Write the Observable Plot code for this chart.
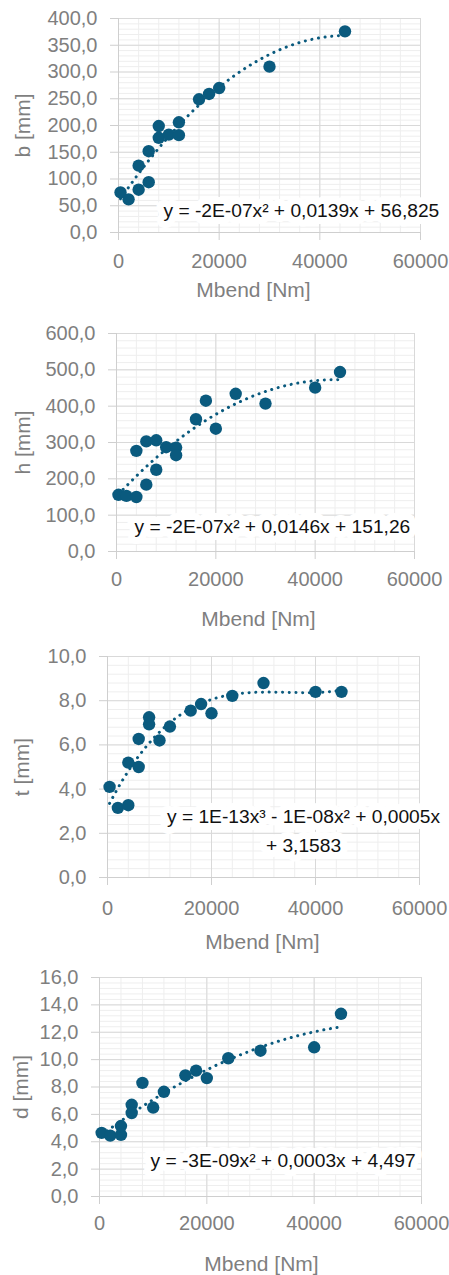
<!DOCTYPE html>
<html>
<head>
<meta charset="utf-8">
<script src="https://cdn.jsdelivr.net/npm/d3@7"></script>
<script src="https://cdn.jsdelivr.net/npm/@observablehq/plot@0.6"></script>
<style>
  html, body { margin: 0; padding: 0; background: #fff; }
  #wrap { position: relative; width: 449px; height: 1275px; overflow: hidden; }
  .panel { position: absolute; left: 0; }
</style>
</head>
<body>
<div id="wrap"></div>
<script>
// ---------- data ----------
const xTicks = [0, 20000, 40000, 60000];

const mbendB = [400, 2000, 4000, 4000, 6000, 6000, 8000, 8000, 10000, 12000, 12000, 16000, 18000, 20000, 30000, 45000];
const bValues = [75, 62, 125, 80, 152, 94, 199, 177, 183, 206, 182, 249, 259, 270, 310, 376];
const bTicks = [0, 50, 100, 150, 200, 250, 300, 350, 400];

const mbendH = [400, 2000, 4000, 4000, 6000, 6000, 8000, 8000, 10000, 12000, 12000, 16000, 18000, 20000, 24000, 30000, 40000, 45000];
const hValues = [156, 153, 150, 277, 184, 303, 306, 225, 287, 286, 265, 364, 415, 338, 434, 407, 451, 494];
const hTicks = [0, 100, 200, 300, 400, 500, 600];

const mbendT = [400, 2000, 4000, 4000, 6000, 6000, 8000, 8000, 10000, 12000, 16000, 18000, 20000, 24000, 30000, 40000, 45000];
const tValues = [4.1, 3.15, 3.27, 5.2, 5.0, 6.27, 7.25, 6.93, 6.2, 6.83, 7.55, 7.85, 7.43, 8.22, 8.8, 8.4, 8.4];
const tTicks = [0, 2, 4, 6, 8, 10];

const mbendD = [400, 2000, 4000, 4000, 6000, 6000, 8000, 10000, 12000, 16000, 18000, 20000, 24000, 30000, 40000, 45000];
const dValues = [4.65, 4.45, 4.5, 5.15, 6.7, 6.1, 8.3, 6.5, 7.65, 8.85, 9.2, 8.65, 10.1, 10.65, 10.9, 13.35];
const dTicks = [0, 2, 4, 6, 8, 10, 12, 14, 16];

const xTitle = "Mbend [Nm]";
const yTitles = ["b [mm]", "h [mm]", "t [mm]", "d [mm]"];
const equations = [
  "y = -2E-07x\u00B2 + 0,0139x + 56,825",
  "y = -2E-07x\u00B2 + 0,0146x + 151,26",
  "y = 1E-13x\u00B3 - 1E-08x\u00B2 + 0,0005x\n+ 3,1583",
  "y = -3E-09x\u00B2 + 0,0003x + 4,497"
];
const trendDegrees = [2, 2, 3, 2];

// ---------- styles ----------
const COLOR = "#0a5a7e";
const TEXT_GRAY = "#7f7f7f";
const MAJOR = "#d9d9d9";
const MINOR = "#eeeeee";
const AXIS = "#cfcfcf";
const FONT = "'Liberation Sans', Arial, sans-serif";

// least-squares polynomial fit (the trendline Excel draws)
function polyfit(xs, ys, deg) {
  const s = 1e-4, n = deg + 1;
  const A = Array.from({length: n}, () => new Array(n + 1).fill(0));
  xs.forEach((x0, k) => {
    const x = x0 * s;
    for (let i = 0; i < n; i++) {
      for (let j = 0; j < n; j++) A[i][j] += x ** (i + j);
      A[i][n] += ys[k] * x ** i;
    }
  });
  for (let i = 0; i < n; i++) {
    let p = i;
    for (let r = i + 1; r < n; r++) if (Math.abs(A[r][i]) > Math.abs(A[p][i])) p = r;
    [A[i], A[p]] = [A[p], A[i]];
    for (let r = 0; r < n; r++) if (r !== i) {
      const f = A[r][i] / A[i][i];
      for (let c = i; c <= n; c++) A[r][c] -= f * A[i][c];
    }
  }
  const coef = A.map((row, i) => row[n] / row[i]);
  return x => coef.reduce((acc, c, i) => acc + c * (x * s) ** i, 0);
}

const fmtY = d => d.toFixed(1).replace(".", ",");

const panels = [
  {top: 0, height: 320, xs: mbendB, ys: bValues, yTicks: bTicks, minorStep: 10,
   m: {top: 18, right: 29, bottom: 88, left: 118}, xPad: 13,
   xTitle: {dx: -16, dy: 58}, yTitleDx: -95,
   eq: {frameAnchor: "bottom-left", textAnchor: "start", dx: 45, dy: -25}},
  {top: 320, height: 320, xs: mbendH, ys: hValues, yTicks: hTicks, minorStep: 20,
   m: {top: 13, right: 35, bottom: 89, left: 116}, xPad: 12,
   xTitle: {dx: -7, dy: 68}, yTitleDx: -93.5,
   eq: {frameAnchor: "bottom-left", textAnchor: "start", dx: 18, dy: -28}},
  {top: 640, height: 320, xs: mbendT, ys: tValues, yTicks: tTicks, minorStep: 0.4,
   m: {top: 16, right: 30, bottom: 83, left: 107}, xPad: 15,
   xTitle: {dx: -1, dy: 64.5}, yTitleDx: -85,
   eq: {frameAnchor: "bottom-left", textAnchor: "middle", dx: 196, dy: -49.5}},
  {top: 960, height: 315, xs: mbendD, ys: dValues, yTicks: dTicks, minorStep: 0.4,
   m: {top: 17, right: 28, bottom: 79, left: 99}, xPad: 11,
   xTitle: {dx: 1, dy: 68}, yTitleDx: -78,
   eq: {frameAnchor: "bottom-left", textAnchor: "start", dx: 51, dy: -39}}
];

const wrap = document.getElementById("wrap");

panels.forEach((p, k) => {
  const data = p.xs.map((x, i) => ({x, y: p.ys[i]}));
  const ymax = p.yTicks[p.yTicks.length - 1];
  const xMinor = d3.range(0, 60001, 4000);
  const yMinor = d3.range(0, Math.round(ymax / p.minorStep) + 1).map(i => +(i * p.minorStep).toFixed(4));
  const fit = polyfit(p.xs, p.ys, trendDegrees[k]);
  const x0 = d3.min(p.xs), x1 = d3.max(p.xs);
  const trend = d3.range(0, 121).map(i => {
    const x = x0 + (x1 - x0) * i / 120;
    return {x, y: fit(x)};
  });

  const chart = Plot.plot({
    width: 449,
    height: p.height,
    marginTop: p.m.top,
    marginRight: p.m.right,
    marginBottom: p.m.bottom,
    marginLeft: p.m.left,
    style: {fontFamily: FONT, background: "#fff", overflow: "visible"},
    x: {domain: [0, 60000]},
    y: {domain: [0, ymax]},
    marks: [
      Plot.gridX(xMinor, {stroke: MINOR, strokeOpacity: 1}),
      Plot.gridY(yMinor, {stroke: MINOR, strokeOpacity: 1}),
      Plot.gridX(xTicks, {stroke: MAJOR, strokeOpacity: 1}),
      Plot.gridY(p.yTicks, {stroke: MAJOR, strokeOpacity: 1}),
      Plot.ruleX([0], {stroke: AXIS}),
      Plot.ruleY([0], {stroke: AXIS}),
      Plot.axisX(xTicks, {tickSize: 8, tickPadding: p.xPad, tickFormat: d => String(d),
        fontSize: 20, fill: TEXT_GRAY, stroke: AXIS, label: null}),
      Plot.axisY(p.yTicks, {tickSize: 8, tickPadding: 13, tickFormat: fmtY,
        fontSize: 20, fill: TEXT_GRAY, stroke: AXIS, label: null}),
      Plot.line(trend, {x: "x", y: "y", stroke: COLOR, strokeWidth: 3,
        strokeDasharray: "0.1 6.6", strokeLinecap: "round"}),
      Plot.dot(data, {x: "x", y: "y", r: 6.2, fill: COLOR, stroke: "none"}),
      Plot.text([equations[k]], {text: d => d, frameAnchor: p.eq.frameAnchor,
        textAnchor: p.eq.textAnchor, lineAnchor: "middle", lineHeight: 1.5,
        dx: p.eq.dx, dy: p.eq.dy, fontSize: 19.2, fill: "#111",
        stroke: "white", strokeWidth: 14, strokeLinejoin: "round"}),
      Plot.text([xTitle], {text: d => d, frameAnchor: "bottom", lineAnchor: "middle",
        dx: p.xTitle.dx, dy: p.xTitle.dy, fontSize: 21, fill: TEXT_GRAY}),
      Plot.text([yTitles[k]], {text: d => d, frameAnchor: "left", rotate: -90,
        textAnchor: "middle", lineAnchor: "middle",
        dx: p.yTitleDx, fontSize: 21, fill: TEXT_GRAY})
    ]
  });
  const div = document.createElement("div");
  div.className = "panel";
  div.style.top = p.top + "px";
  div.appendChild(chart);
  wrap.appendChild(div);
});
</script>
</body>
</html>
